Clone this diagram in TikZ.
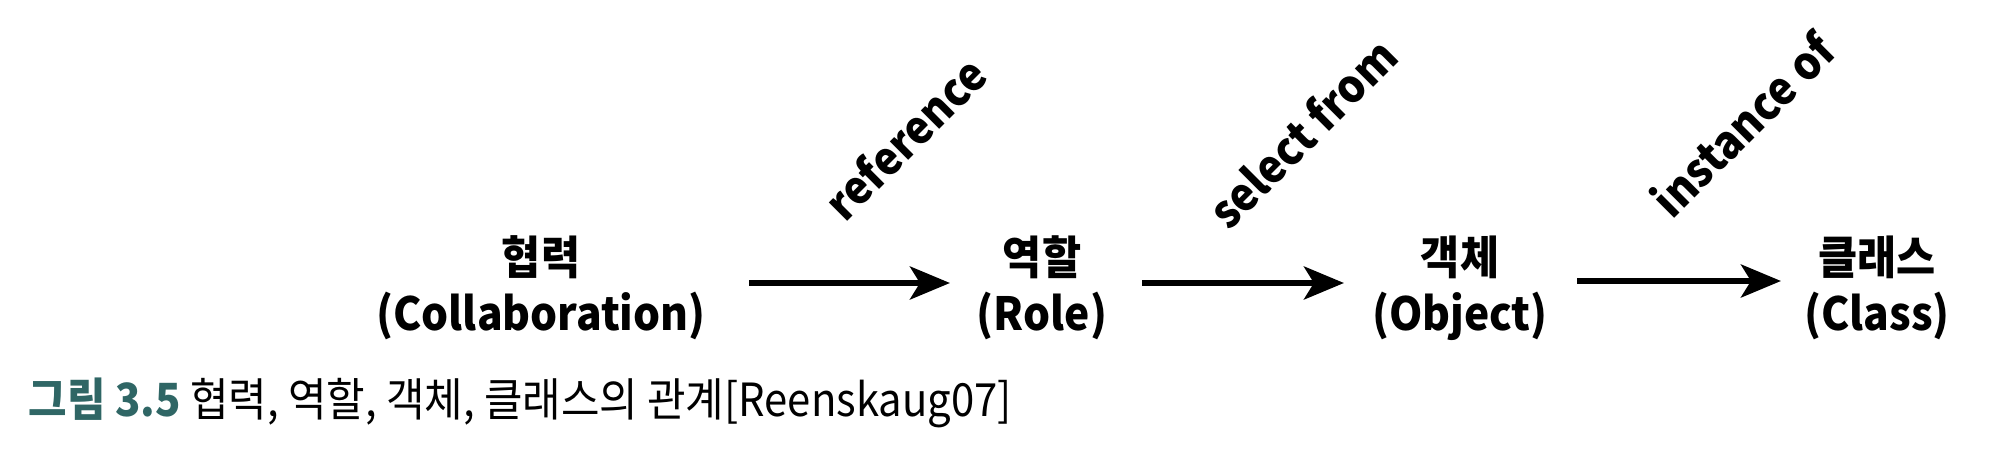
\documentclass[tikz,border=0pt]{standalone}
\usepackage{fontspec}
\usetikzlibrary{arrows.meta}
\newfontfamily\kr[FakeStretch=0.93]{Noto Sans CJK KR}
\newfontfamily\krcap[FakeStretch=0.915]{Noto Sans CJK KR}
\definecolor{capteal}{HTML}{2F6665}
\begin{document}
\begin{tikzpicture}[x=0.01cm,y=0.01cm,
  lbl/.style={font=\kr\bfseries\fontsize{13}{15.9}\selectfont, align=center, inner sep=0pt},
  rel/.style={font=\kr\bfseries\fontsize{13}{15}\selectfont, rotate=45, inner sep=0pt},
  captxt/.style={font=\krcap\fontsize{13}{15}\selectfont, inner sep=0pt, anchor=west},
  arr/.style={line width=1.6pt, -{Stealth[length=0.4cm,width=0.33cm,inset=0.1cm]}}]
\useasboundingbox (0,0) rectangle (2000,472);
\node[lbl] (col) at (541,184) {협력\\(Collaboration)};
\node[lbl] (role) at (1042,184) {역할\\(Role)};
\node[lbl] (obj) at (1460,184) {객체\\(Object)};
\node[lbl] (cls) at (1877,184) {클래스\\(Class)};
\draw[arr] ([xshift=2.08cm,yshift=0.05cm]col.center) -- ([xshift=-0.92cm,yshift=0.05cm]role.center);
\draw[arr] ([xshift=1.00cm,yshift=0.05cm]role.center) -- ([xshift=-1.16cm,yshift=0.05cm]obj.center);
\draw[arr] ([xshift=1.17cm,yshift=0.07cm]obj.center) -- ([xshift=-0.96cm,yshift=0.07cm]cls.center);
\node[rel] (r1) at (905,334) {reference};
\node[rel] (r2) at (1302,339) {select from};
\node[rel] (r3) at (1742,348) {instance of};
\node[captxt] (caption) at (28,69) {{\bfseries\color{capteal}그림 3.5} 협력, 역할, 객체, 클래스의 관계[Reenskaug07]};
\end{tikzpicture}
\end{document}
